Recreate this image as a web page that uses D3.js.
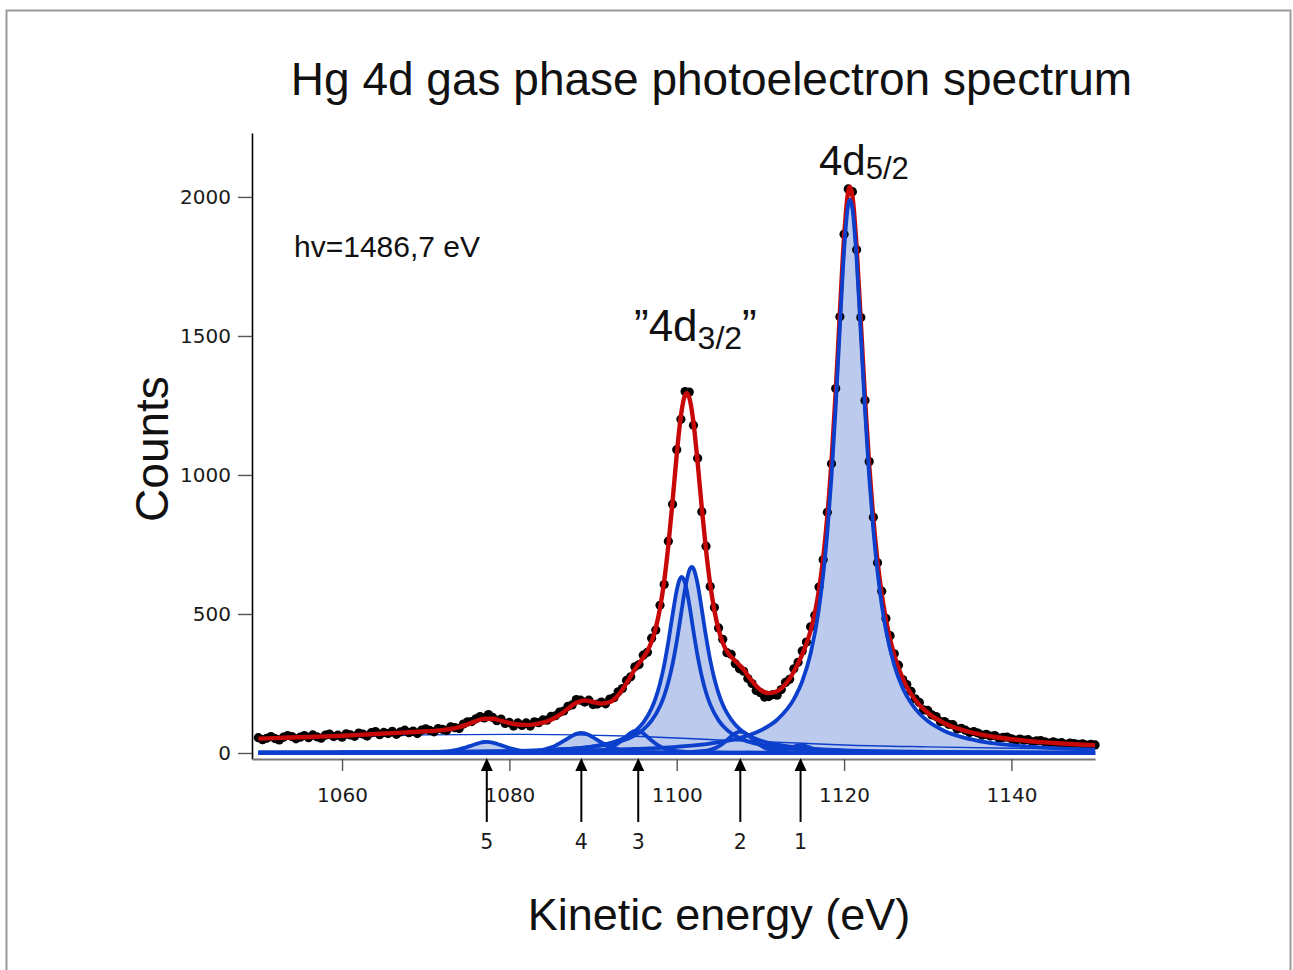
<!DOCTYPE html>
<html><head><meta charset="utf-8">
<script src="https://cdn.jsdelivr.net/npm/d3@7"></script>
<style>body{margin:0;background:#fff;}svg{display:block;}</style>
</head><body>
<svg id="chart" width="1293" height="970"></svg>
<script>
// ---------- DATA ----------
const titleText = "Hg 4d gas phase photoelectron spectrum";
const xLabel = "Kinetic energy (eV)";
const yLabel = "Counts";
const photonLabel = "hv=1486,7 eV";
const xTicks = [1060, 1080, 1100, 1120, 1140];
const yTicks = [0, 500, 1000, 1500, 2000];

// measured counts, 0.5 eV steps from 1050 to 1150 eV
const dotStart = 1050, dotStep = 0.5;
const dotCounts = [
 55,48,53,59,52,47,57,63,59,51,57,63,55,65,58,53,64,68,59,64,
 57,69,65,60,72,68,61,73,77,66,74,70,78,67,76,82,73,79,70,82,
 87,81,76,88,85,81,94,91,88,104,112,113,123,131,126,138,128,116,122,106,
 110,97,108,99,108,97,112,109,119,118,132,134,147,151,168,173,192,190,183,190,
 174,176,183,177,194,199,220,232,261,274,310,318,352,362,413,442,531,606,762,895,
 1091,1200,1300,1298,1179,1060,868,744,599,523,450,409,361,355,321,303,294,268,250,225,
 217,201,203,210,208,228,254,265,303,326,367,399,454,495,597,695,866,1040,1311,1569,
 1866,2029,2019,1810,1566,1268,1048,848,684,582,484,422,357,316,264,246,222,195,182,155,
 153,137,131,113,113,103,102,86,89,82,74,77,72,64,67,61,63,54,56,57,
 51,46,50,46,48,40,44,45,40,36,40,36,37,31,36,34,31,33,28,31,
 29];

// total fit (red) [eV, counts]
const fitTotal = [[1050,51.6],[1052,53.6],[1054,55.6],[1056,57.7],[1058,59.8],[1060,62.0],[1062,65.2],[1064,68.4],[1066,71.5],[1068,74.5],[1070,78.0],[1071,79.7],[1072,82.2],[1073,86.3],[1074,93.1],[1075,103.0],[1076,114.7],[1077,123.4],[1078,123.1],[1079,115.7],[1080,107.8],[1081,102.6],[1082,101.1],[1083,103.1],[1084,108.9],[1085,119.8],[1086,137.0],[1087,159.3],[1088,180.5],[1089,188.7],[1090,183.3],[1091,177.5],[1092,183.2],[1093,207.8],[1094,251.2],[1095,301.6],[1096,343.3],[1096.5,367.1],[1097,400.7],[1097.5,450.1],[1098,520.7],[1098.5,618.3],[1099,747.3],[1099.5,904.9],[1100,1073.2],[1100.5,1213.9],[1101,1287.9],[1101.2,1294.1],[1101.5,1278.2],[1102,1189.0],[1102.5,1044.1],[1103,880.4],[1103.5,729.7],[1104,606.7],[1104.5,512.6],[1105,444.2],[1105.5,396.8],[1106,365.3],[1107,331.1],[1108,299.9],[1109,258.3],[1110,227.1],[1111,215.2],[1112,221.9],[1113,247.5],[1114,293.2],[1115,355.1],[1115.5,392.7],[1116,439.8],[1116.5,502.6],[1117,587.2],[1117.5,700.8],[1118,852.2],[1118.5,1050.1],[1119,1298.7],[1119.5,1584.3],[1120,1855.6],[1120.5,2020.9],[1120.7,2036.6],[1121,2002.5],[1121.5,1819.7],[1122,1551.5],[1122.5,1276.3],[1123,1036.1],[1123.5,841.9],[1124,689.7],[1124.5,571.7],[1125,480.0],[1126,351.1],[1127,268.1],[1128,212.4],[1129,173.2],[1130,144.7],[1132,107.2],[1134,84.0],[1136,68.5],[1138,57.5],[1140,49.3],[1142,43.1],[1144,38.2],[1146,34.2],[1148,30.8],[1150,28.0]];

// background (thin blue line)
const background = [[1050,47],[1055,51],[1060,55],[1065,61],[1070,65],[1080,67],[1088,65],[1095,60],[1100,54],[1105,47],[1110,41],[1115,35],[1120,29],[1130,22],[1140,17],[1150,13]];

// fit components (blue)
const peakMain = [[1050,1.9],[1060,2.6],[1070,3.7],[1080,5.8],[1090,10.2],[1095,14.5],[1100,22.2],[1104,34.0],[1107,50.0],[1110,80.7],[1112,119.6],[1114,193.7],[1115,258.0],[1116,357.7],[1117,519.8],[1118,794.0],[1118.5,995],[1119,1246],[1119.5,1533.7],[1120,1807],[1120.5,1973.7],[1120.7,1990],[1121,1956.7],[1121.5,1775.2],[1122,1508.2],[1122.5,1234.1],[1123,995],[1123.5,801.8],[1124,650.6],[1124.5,533.5],[1125,442.7],[1126,315.4],[1127,234.0],[1128,179.7],[1129,141.9],[1130,114.7],[1132,79.2],[1134,57.8],[1136,44.0],[1138,34.6],[1140,27.9],[1144,19.2],[1150,12.2]];
const peakA = [[1050,1.1],[1060,1.7],[1070,3.0],[1080,6.5],[1085,11.3],[1090,23.9],[1092,35.6],[1094,58.2],[1095,78.0],[1096,109.2],[1097,160.7],[1097.5,199.1],[1098,249.9],[1098.5,316.5],[1099,400.5],[1099.5,496.7],[1100,585.2],[1100.3,620.3],[1100.6,633],[1101,610.8],[1101.5,534.8],[1102,438.2],[1102.5,348.1],[1103,274.5],[1103.5,217.7],[1104,174.8],[1105,117.4],[1106,83.2],[1107,61.5],[1108,47.2],[1110,30.1],[1113,17.6],[1116,11.6],[1120,7.33],[1130,3.21],[1140,1.79],[1150,1.14]];
const peakB = [[1050,1.2],[1060,1.85],[1070,3.19],[1080,6.74],[1085,11.3],[1090,22.5],[1093,39.4],[1095,63.4],[1096,84.2],[1097,116.1],[1098,168.0],[1098.5,205.8],[1099,255.3],[1099.5,319.6],[1100,400.8],[1100.5,495.9],[1101,590.9],[1101.5,656.8],[1101.8,669],[1102,663.5],[1102.5,607.5],[1103,515.6],[1103.5,418.9],[1104,334.5],[1104.5,266.9],[1105,214.7],[1105.5,174.7],[1106,144.0],[1107,101.6],[1108,74.8],[1109,57.1],[1110,44.9],[1112,29.7],[1114,21.1],[1117,13.7],[1120,9.64],[1125,5.96],[1130,4.05],[1140,2.21],[1150,1.39]];
const peak1 = [[1050,0.01],[1100,0.16],[1105,0.36],[1108,0.73],[1110,1.43],[1111,2.39],[1112,5.12],[1113,12.0],[1113.5,17.3],[1114,22.97],[1114.4,26.6],[1114.8,28],[1115.2,26.6],[1115.5,24.0],[1116,18.4],[1116.5,13.0],[1117,8.62],[1118,3.68],[1119,1.89],[1120,1.21],[1122,0.66],[1125,0.34],[1130,0.15],[1150,0.03]];
const peak2 = [[1050,0.04],[1080,0.18],[1090,0.44],[1095,0.86],[1100,2.26],[1102,4.07],[1103,6.28],[1104,11.6],[1104.5,16.6],[1105,23.9],[1105.5,33.8],[1106,46.1],[1106.5,59.4],[1107,70.9],[1107.6,77],[1108,74.2],[1108.5,64.4],[1109,51.4],[1109.5,38.5],[1110,27.6],[1110.5,19.2],[1111,13.4],[1112,7.0],[1113,4.38],[1114,3.12],[1116,1.87],[1120,0.88],[1125,0.45],[1130,0.27],[1140,0.13],[1150,0.08]];
const peak3 = [[1050,0.08],[1070,0.25],[1080,0.68],[1085,1.48],[1088,2.87],[1090,5.52],[1091,9.27],[1092,18.0],[1092.5,25.5],[1093,35.4],[1093.5,47.5],[1094,60.6],[1094.5,72.4],[1095,79.3],[1095.2,80],[1096,70.3],[1096.5,58.0],[1097,44.9],[1097.5,33.2],[1098,23.8],[1098.5,16.8],[1099,12.0],[1100,6.66],[1101,4.37],[1102,3.18],[1104,1.97],[1106,1.32],[1110,0.72],[1115,0.4],[1120,0.26],[1130,0.13],[1150,0.05]];
const peak4 = [[1050,0.15],[1060,0.27],[1070,0.64],[1075,1.18],[1078,1.90],[1080,2.81],[1081,3.57],[1082,4.80],[1083,7.09],[1084,11.66],[1085,20.27],[1085.5,26.6],[1086,34.3],[1086.5,43.2],[1087,52.6],[1087.5,61.6],[1088,68.6],[1088.6,72],[1089,70.5],[1089.5,64.8],[1090,56.4],[1090.5,46.9],[1091,37.7],[1091.5,29.5],[1092,22.6],[1093,13.0],[1094,7.77],[1095,5.15],[1097,2.93],[1100,1.65],[1105,0.82],[1110,0.48],[1120,0.23],[1130,0.13],[1150,0.06]];
const peak5 = [[1050,0.17],[1060,0.41],[1065,0.8],[1068,1.35],[1070,2.16],[1071,2.96],[1072,4.53],[1073,7.63],[1074,13.27],[1074.5,17.3],[1075,21.96],[1075.5,27.1],[1076,32.3],[1076.5,36.8],[1077,39.5],[1077.3,40],[1078,37.5],[1078.5,33.3],[1079,28.2],[1079.5,23.0],[1080,18.1],[1080.5,14.0],[1081,10.65],[1082,6.14],[1083,3.78],[1084,2.56],[1086,1.53],[1090,0.75],[1095,0.4],[1100,0.24],[1110,0.12],[1130,0.06],[1150,0.04]];

// satellite markers
const arrowEnergies = [1077.3, 1088.6, 1095.4, 1107.6, 1114.8];
const arrowLabels = ["5", "4", "3", "2", "1"];

// ---------- DRAWING ----------
const svg = d3.select("#chart");
const SANS = "'Liberation Sans', Arial, Helvetica, sans-serif";
const TICKF = "'DejaVu Sans', Verdana, sans-serif";
const RED = "#c80808", BLUE = "#0b3fcc", FILL = "#bccaee";

svg.append("rect").attr("x", 6.5).attr("y", 10.5).attr("width", 1284).attr("height", 1000)
  .attr("fill", "none").attr("stroke", "#9c9a94").attr("stroke-width", 2);

const x = d3.scaleLinear().domain([1049.24, 1150]).range([252, 1095.1]);
const y = d3.scaleLinear().domain([-21.6, 2230]).range([759, 133]);

const comps = [peakMain, peakA, peakB, peak1, peak2, peak3, peak4, peak5];
const area = d3.area().x(d => x(d[0])).y0(y(0)).y1(d => y(d[1])).curve(d3.curveMonotoneX);
const line = d3.line().x(d => x(d[0])).y(d => y(d[1])).curve(d3.curveMonotoneX);

// fills
svg.append("g").selectAll("path").data(comps).join("path")
  .attr("d", area).attr("fill", FILL).attr("stroke", "none");

// background line
svg.append("path").datum(background).attr("d", line)
  .attr("fill", "none").attr("stroke", BLUE).attr("stroke-width", 1.4);

// data dots
const dots = dotCounts.map((c, i) => [dotStart + i * dotStep, c]);
svg.append("g").selectAll("circle").data(dots).join("circle")
  .attr("cx", d => x(d[0])).attr("cy", d => y(d[1])).attr("r", 4.6).attr("fill", "#000");

// total fit
svg.append("path").datum(fitTotal).attr("d", line)
  .attr("fill", "none").attr("stroke", RED).attr("stroke-width", 4.4).attr("stroke-linejoin", "round");

// component lines
svg.append("g").selectAll("path").data(comps).join("path")
  .attr("d", line).attr("fill", "none").attr("stroke", BLUE).attr("stroke-width", 3.8)
  .attr("stroke-linejoin", "round");

// axes
const gy = svg.append("g").attr("transform", "translate(252,0)")
  .call(d3.axisLeft(y).tickValues(yTicks).tickFormat(d3.format("d")).tickSize(14).tickSizeOuter(0).tickPadding(7));
gy.select(".domain").attr("stroke", "#000").attr("stroke-width", 1.6);
gy.selectAll(".tick line").attr("stroke", "#555").attr("stroke-width", 1.4);
gy.selectAll(".tick text").attr("font-family", TICKF).attr("font-size", 20).attr("fill", "#1a1a1a");

const gx = svg.append("g").attr("transform", "translate(0,759)")
  .call(d3.axisBottom(x).tickValues(xTicks).tickFormat(d3.format("d")).tickSize(12).tickSizeOuter(0).tickPadding(17));
gx.select(".domain").attr("stroke", "#777").attr("stroke-width", 2);
gx.selectAll(".tick line").attr("stroke", "#555").attr("stroke-width", 1.4);
gx.selectAll(".tick text").attr("font-family", TICKF).attr("font-size", 20).attr("fill", "#1a1a1a");

// arrows for satellites
const ag = svg.append("g");
arrowEnergies.forEach((e, i) => {
  const ax = x(e);
  ag.append("line").attr("x1", ax).attr("x2", ax).attr("y1", 822).attr("y2", 768)
    .attr("stroke", "#000").attr("stroke-width", 2);
  ag.append("path").attr("d", `M${ax},758 L${ax - 6},771 L${ax + 6},771 Z`).attr("fill", "#000");
  ag.append("text").attr("x", ax).attr("y", 849).attr("text-anchor", "middle")
    .attr("font-family", TICKF).attr("font-size", 20.5).attr("fill", "#1a1a1a").text(arrowLabels[i]);
});

// texts
svg.append("text").attr("x", 711.5).attr("y", 95).attr("text-anchor", "middle")
  .attr("font-family", SANS).attr("font-size", 46).attr("fill", "#111").text(titleText);
svg.append("text").attr("transform", "translate(168,449) rotate(-90)").attr("text-anchor", "middle")
  .attr("font-family", SANS).attr("font-size", 46).attr("fill", "#111").text(yLabel);
svg.append("text").attr("x", 719).attr("y", 930).attr("text-anchor", "middle")
  .attr("font-family", SANS).attr("font-size", 45).attr("fill", "#111").text(xLabel);
svg.append("text").attr("x", 294).attr("y", 257)
  .attr("font-family", SANS).attr("font-size", 30).attr("fill", "#111").text(photonLabel);

const t1 = svg.append("text").attr("x", 819).attr("y", 175).attr("font-family", SANS).attr("fill", "#111");
t1.append("tspan").attr("font-size", 42).text("4d");
t1.append("tspan").attr("font-size", 31).attr("dy", 4).text("5/2");

const t2 = svg.append("text").attr("x", 634).attr("y", 341).attr("font-family", SANS).attr("fill", "#111");
t2.append("tspan").attr("font-size", 44).text("\u201D4d");
t2.append("tspan").attr("font-size", 32).attr("dy", 8).text("3/2");
t2.append("tspan").attr("font-size", 44).attr("dy", -8).text("\u201D");
</script>
</body></html>
